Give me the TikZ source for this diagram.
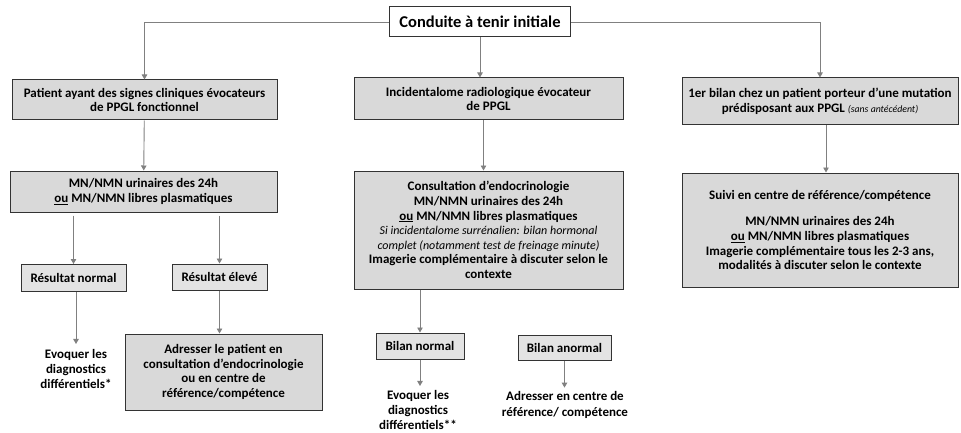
\documentclass[tikz,border=0pt]{standalone}
\usepackage{fontspec}
\setmainfont{Carlito}
\usetikzlibrary{arrows.meta}
\newcommand{\notefont}{\mdseries\itshape\fontsize{12}{14.5}\selectfont}

\begin{document}
\begin{tikzpicture}[
    x=1pt, y=-1pt,
    box/.style={
        draw=black!80,
        line width=1pt,
        align=center,
        inner sep=2pt,
        font=\bfseries\fontsize{13}{14.6}\selectfont
    },
    greybox/.style={box, fill=black!15},
    lightbox/.style={box, fill=black!11},
    plaintext/.style={align=center, inner sep=1pt, font=\bfseries\fontsize{13}{15.2}\selectfont},
    arrow/.style={-{Triangle[width=5.5pt,length=5pt]}, draw=black!50, line width=0.9pt}
]
\useasboundingbox (0,0) rectangle (961,433);

% Ligne 0 : conduite initiale
\node[box, fill=white, minimum width=181pt, minimum height=30pt,
      font=\bfseries\fontsize{16.5}{18}\selectfont] (init) at (480, 22) {Conduite à tenir initiale};

% Ligne 1 : trois situations
\node[greybox, minimum width=265pt, minimum height=40pt] (patient) at (144.5, 100)
    {Patient ayant des signes cliniques évocateurs\\de PPGL fonctionnel};
\node[greybox, minimum width=269pt, minimum height=42pt] (incid) at (488.5, 99)
    {Incidentalome radiologique évocateur\\de PPGL};
\node[greybox, minimum width=276pt, minimum height=47pt] (mutation) at (820, 101.5)
    {1er bilan chez un patient porteur d’une mutation\\prédisposant aux PPGL {\mdseries\itshape\fontsize{9.8}{10}\selectfont (sans antécédent)}};

% Ligne 2 : bilans
\node[greybox, minimum width=267pt, minimum height=41pt] (mn) at (143.5, 191.5)
    {MN/NMN urinaires des 24h\\\underline{ou} MN/NMN libres plasmatiques};
\node[greybox, minimum width=269pt, minimum height=118pt] (consult) at (488.5, 230)
    {Consultation d’endocrinologie\\MN/NMN urinaires des 24h\\\underline{ou} MN/NMN libres plasmatiques\\
     {\notefont Si incidentalome surrénalien: bilan hormonal}\\
     {\notefont complet (notamment test de freinage minute)}\\
     Imagerie complémentaire à discuter selon le\\contexte};
\node[greybox, minimum width=276pt, minimum height=114pt] (suivi) at (820, 230)
    {Suivi en centre de référence/compétence\\[12pt]MN/NMN urinaires des 24h\\\underline{ou} MN/NMN libres plasmatiques\\
     Imagerie complémentaire tous les 2-3 ans,\\modalités à discuter selon le contexte};

% Ligne 3 : résultats
\node[lightbox, minimum width=105pt, minimum height=27pt] (resnorm) at (73.5, 278) {Résultat normal};
\node[lightbox, minimum width=95pt, minimum height=26pt] (reselev) at (219.5, 277) {Résultat élevé};
\node[lightbox, minimum width=88pt, minimum height=26pt] (bilnorm) at (420, 346) {Bilan normal};
\node[lightbox, minimum width=93pt, minimum height=25pt] (bilanorm) at (564.5, 347.5) {Bilan anormal};

% Ligne 4 : conduites finales
\node[plaintext] (evoq1) at (76, 369) {Evoquer les\\diagnostics\\différentiels*};
\node[greybox, minimum width=197pt, minimum height=76pt] (adresse) at (223.5, 372)
    {Adresser le patient en\\consultation d’endocrinologie\\ou en centre de\\référence/compétence};
\node[plaintext] (evoq2) at (418, 410) {Evoquer les\\diagnostics\\différentiels**};
\node[plaintext] (adresse2) at (565, 405) {Adresser en centre de\\référence/ compétence};

% === FLECHES ===
\draw[arrow] (init.west) -| (patient.north);
\draw[arrow] (init.east) -| (mutation.north);
\draw[arrow] (init.south) -- (init.south |- incid.north);

\draw[arrow] (patient) -- (mn);
\draw[arrow] ([xshift=-5pt]incid.south) -- ([xshift=-5pt]consult.north);
\draw[arrow] ([xshift=6pt]mutation.south) -- ([xshift=6pt]suivi.north);

\draw[arrow] ([yshift=-3pt]resnorm.north |- mn.south) -- (resnorm.north);
\draw[arrow] ([yshift=-3pt]reselev.north |- mn.south) -- (reselev.north);
\draw[arrow] ([xshift=2.5pt]resnorm.south) -- ([xshift=2.5pt,yshift=4pt]resnorm.south |- evoq1.north);
\draw[arrow] (reselev.south) -- (reselev.south |- adresse.north);

\draw[arrow] (bilnorm.north |- consult.south) -- (bilnorm.north);
\draw[arrow] (bilnorm.south) -- ([yshift=3pt]bilnorm.south |- evoq2.north);
\draw[arrow] (bilanorm.south) -- ([yshift=3pt]bilanorm.south |- adresse2.north);

\end{tikzpicture}
\end{document}
